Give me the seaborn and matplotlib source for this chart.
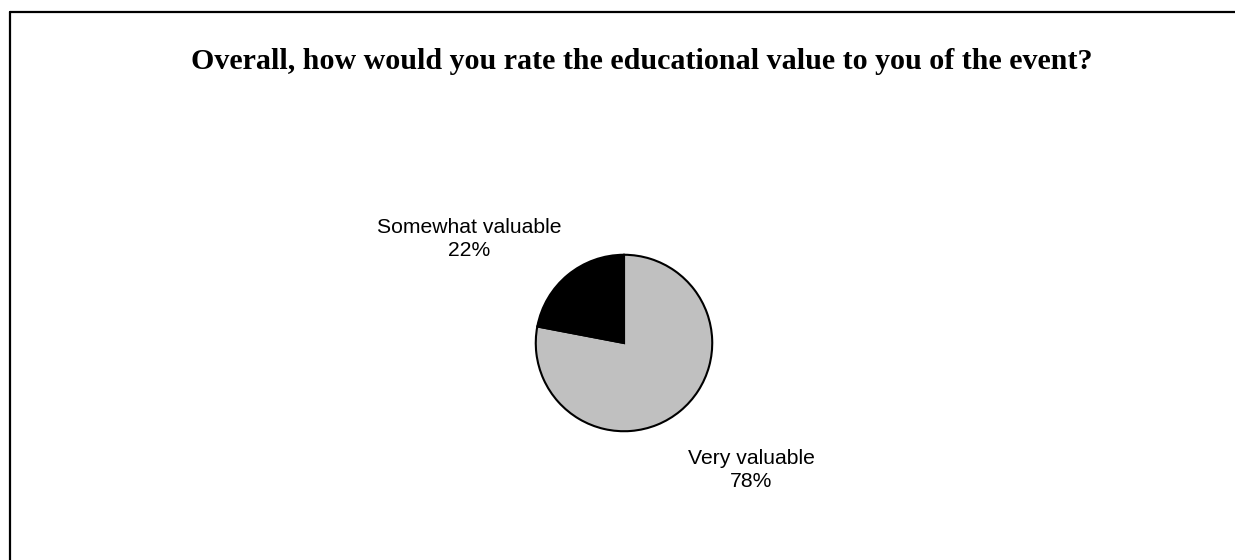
import matplotlib
matplotlib.use("Agg")
import matplotlib.pyplot as plt
from matplotlib.lines import Line2D
import seaborn as sns

# Survey responses
categories = ["Very valuable", "Somewhat valuable"]
shares = [78, 22]
slice_colors = ["#C0C0C0", "#000000"]
title = "Overall, how would you rate the educational value to you of the event?"

sns.set_theme(style="white")
plt.rcParams["font.family"] = ["Liberation Sans", "DejaVu Sans"]

W, H = 1235, 560
fig = plt.figure(figsize=(W / 100, H / 100), dpi=100)
fig.patch.set_facecolor("white")

# Outer frame (top and left edges)
fig.add_artist(Line2D([10 / W, 10 / W], [0, 1 - 12 / H], color="black", lw=1.6))
fig.add_artist(Line2D([10 / W, 1], [1 - 12 / H, 1 - 12 / H], color="black", lw=1.6))

fig.text(642 / W, 1 - 61 / H, title, ha="center", va="center",
         family="Liberation Serif", weight="bold", fontsize=21.6, color="black")

# Pie area
cx, cy, r = 624, 343, 90
ax = fig.add_axes([(cx - r) / W, (H - cy - r) / H, 2 * r / W, 2 * r / H])
wedges, _ = ax.pie(shares, colors=slice_colors, startangle=90, counterclock=False,
                   wedgeprops=dict(edgecolor="black", linewidth=1.5))
ax.set_xlim(-1.02, 1.02)
ax.set_ylim(-1.02, 1.02)
ax.set_aspect("equal")
ax.axis("off")

# Data labels placed outside the pie
label_pos = {"Very valuable": (751, 470), "Somewhat valuable": (469, 239)}
for name, val in zip(categories, shares):
    px, py = label_pos[name]
    fig.text(px / W, 1 - py / H, f"{name}\n{val}%", ha="center", va="center",
             fontsize=15.2, color="black", linespacing=1.3)

fig.savefig("out.png", dpi=100, facecolor="white")
